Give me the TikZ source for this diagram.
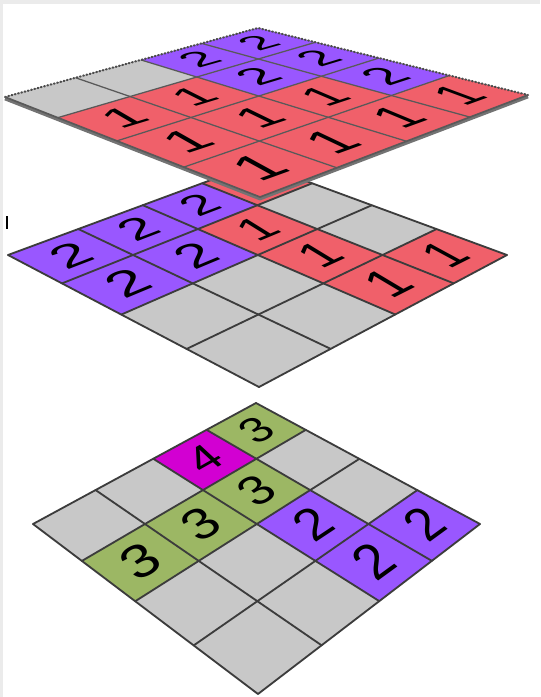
\documentclass[tikz,border=0pt]{standalone}
\usepackage{fontspec}
\newfontfamily\digitfont{Liberation Sans}
\usepackage{tikz}

\definecolor{cellgray}{RGB}{200,200,200}
\definecolor{cellpurple}{RGB}{153,87,255}
\definecolor{cellred}{RGB}{240,96,106}
\definecolor{cellgreen}{RGB}{156,183,100}
\definecolor{cellmagenta}{RGB}{210,0,210}
\definecolor{gridcol}{RGB}{60,60,60}

\newcommand{\txtscale}{0.0237}
\newcommand{\txtslant}{0.2}

% capa: T, L, R (px) i coeficients de perspectiva g, h
\newcommand{\setlayer}[8]{%
  \def\Tx{#1}\def\Ty{#2}%
  \pgfmathsetmacro{\eLx}{#3-#1}\pgfmathsetmacro{\eLy}{#4-#2}%
  \pgfmathsetmacro{\eRx}{#5-#1}\pgfmathsetmacro{\eRy}{#6-#2}%
  \def\persg{#7}\def\persh{#8}}

% punt (u,v) de la graella, en cel·les
\newcommand{\projpt}[2]{%
  \pgfmathsetmacro{\uu}{(#1)/4}%
  \pgfmathsetmacro{\vv}{(#2)/4}%
  \pgfmathsetmacro{\den}{1+(\persg)*\uu+(\persh)*\vv}%
  \pgfmathsetmacro{\px}{\Tx+((1+\persg)*\uu*\eLx+(1+\persh)*\vv*\eRx)/\den}%
  \pgfmathsetmacro{\py}{\Ty+((1+\persg)*\uu*\eLy+(1+\persh)*\vv*\eRy)/\den}}

\newcommand{\gridlayer}[1]{%
  \foreach \i in {0,...,4}{
    \foreach \j in {0,...,4}{
      \projpt{\i}{\j}
      \coordinate (#1-\i-\j) at (\px,\py);
    }
  }}

% xifra sobre el pla de la cel·la
\newcommand{\celltext}[4]{%
  \projpt{#2+0.5}{#3+0.5}\let\cx\px\let\cy\py
  \projpt{#2+1}{#3+0.5}\let\qx\px\let\qy\py
  \projpt{#2}{#3+0.5}%
  \pgfmathsetmacro{\dux}{\qx-\px}\pgfmathsetmacro{\duy}{\qy-\py}%
  \projpt{#2+0.5}{#3+1}\let\qx\px\let\qy\py
  \projpt{#2+0.5}{#3}%
  \pgfmathsetmacro{\dvx}{\qx-\px}\pgfmathsetmacro{\dvy}{\qy-\py}%
  \pgfmathsetmacro{\ma}{-(\dux)*\txtscale}%
  \pgfmathsetmacro{\mb}{(\duy)*\txtscale}%
  \pgfmathsetmacro{\mc}{-(\dvx+\txtslant*\dux)*\txtscale}%
  \pgfmathsetmacro{\md}{(\dvy+\txtslant*\duy)*\txtscale}%
  \begin{scope}[shift={(\cx,\cy)}, cm={\ma,\mb,\mc,\md,(0,0)}]
    \node[digit] (#1-t-#2-#3) at (0,0) {#4};
  \end{scope}}

\begin{document}
\begin{tikzpicture}[
    x=0.025cm, y=-0.025cm,
    gridline/.style={gridcol, line width=1.3pt, line cap=round},
    topline/.style={black!65, line width=0.9pt},
    digit/.style={
        transform shape,
        inner sep=0pt,
        text=black,
        font=\digitfont\fontsize{24}{24}\selectfont
    }
]

\useasboundingbox (0,0) rectangle (540,697);
\fill[white] (0,0) rectangle (540,697);
\fill[black!8] (0,0) rectangle (540,4);
\fill[black!8] (0,0) rectangle (3,697);

% marca a l'esquerra
\draw[line width=1.4pt] (7,216) -- (7,229);

% ---------------- CAPA INFERIOR ----------------

\setlayer{256}{403}{33}{524}{480}{524}{-0.14539}{-0.14285}
\gridlayer{bot}

% Cel·les
\foreach \i/\j/\col in {0/0/cellgreen, 1/0/cellmagenta, 2/0/cellgray, 3/0/cellgray,
    0/1/cellgray, 1/1/cellgreen, 2/1/cellgreen, 3/1/cellgreen,
    0/2/cellgray, 1/2/cellpurple, 2/2/cellgray, 3/2/cellgray,
    0/3/cellpurple, 1/3/cellpurple, 2/3/cellgray, 3/3/cellgray}{
    \pgfmathtruncatemacro{\ii}{\i+1}
    \pgfmathtruncatemacro{\jj}{\j+1}
    \fill[\col] (bot-\i-\j) -- (bot-\ii-\j) -- (bot-\ii-\jj) -- (bot-\i-\jj) -- cycle;
}

% Graella
\foreach \k in {0,...,4}{
    \draw[gridline] (bot-\k-0) -- (bot-\k-4);
    \draw[gridline] (bot-0-\k) -- (bot-4-\k);
}

% Xifres
\foreach \i/\j/\dig in {0/0/3, 1/0/4, 1/1/3, 2/1/3, 3/1/3, 1/2/2, 0/3/2, 1/3/2}{
    \celltext{bot}{\i}{\j}{\dig}
}

% ---------------- CAPA MITJANA ----------------

\setlayer{257}{163}{8}{255}{507}{255}{-0.15261}{-0.15042}
\gridlayer{mid}

% Cel·les
\foreach \i/\j/\col in {0/0/cellred, 1/0/cellpurple, 2/0/cellpurple, 3/0/cellpurple,
    0/1/cellgray, 1/1/cellred, 2/1/cellpurple, 3/1/cellpurple,
    0/2/cellgray, 1/2/cellred, 2/2/cellgray, 3/2/cellgray,
    0/3/cellred, 1/3/cellred, 2/3/cellgray, 3/3/cellgray}{
    \pgfmathtruncatemacro{\ii}{\i+1}
    \pgfmathtruncatemacro{\jj}{\j+1}
    \fill[\col] (mid-\i-\j) -- (mid-\ii-\j) -- (mid-\ii-\jj) -- (mid-\i-\jj) -- cycle;
}

% Graella
\foreach \k in {0,...,4}{
    \draw[gridline] (mid-\k-0) -- (mid-\k-4);
    \draw[gridline] (mid-0-\k) -- (mid-4-\k);
}

% Xifres
\foreach \i/\j/\dig in {1/0/2, 2/0/2, 3/0/2, 1/1/1, 2/1/2, 3/1/2, 1/2/1, 0/3/1, 1/3/1}{
    \celltext{mid}{\i}{\j}{\dig}
}

% ---------------- CAPA SUPERIOR ----------------

\setlayer{258}{28}{5}{97}{528}{95}{-0.1385}{-0.18775}
\gridlayer{top}

% Gruix de la placa
\draw[
    black!55,
    line width=2.4pt,
    line join=round
] ([yshift=-1.2pt]top-4-0) -- ([yshift=-1.2pt]top-4-4) -- ([yshift=-1.2pt]top-0-4);

% Cel·les
\foreach \i/\j/\col in {0/0/cellpurple, 1/0/cellpurple, 2/0/cellgray, 3/0/cellgray,
    0/1/cellpurple, 1/1/cellpurple, 2/1/cellred, 3/1/cellred,
    0/2/cellpurple, 1/2/cellred, 2/2/cellred, 3/2/cellred,
    0/3/cellred, 1/3/cellred, 2/3/cellred, 3/3/cellred}{
    \pgfmathtruncatemacro{\ii}{\i+1}
    \pgfmathtruncatemacro{\jj}{\j+1}
    \fill[\col] (top-\i-\j) -- (top-\ii-\j) -- (top-\ii-\jj) -- (top-\i-\jj) -- cycle;
}

% Graella
\foreach \k in {1,2,3}{
    \draw[topline] (top-\k-0) -- (top-\k-4);
    \draw[topline] (top-0-\k) -- (top-4-\k);
}

% Vores del darrere
\draw[
    black!70,
    line width=1.5pt,
    dash pattern=on 0.6pt off 1.8pt,
    line cap=round
] (top-4-0) -- (top-0-0) -- (top-0-4);

% Vores del davant
\draw[
    black!65,
    line width=1.2pt,
    line join=round
] (top-4-0) -- (top-4-4) -- (top-0-4);

% Xifres
\foreach \i/\j/\dig in {0/0/2, 1/0/2, 0/1/2, 1/1/2, 0/2/2, 2/1/1, 3/1/1, 1/2/1, 2/2/1, 3/2/1,
    0/3/1, 1/3/1, 2/3/1, 3/3/1}{
    \celltext{top}{\i}{\j}{\dig}
}

\end{tikzpicture}
\end{document}
